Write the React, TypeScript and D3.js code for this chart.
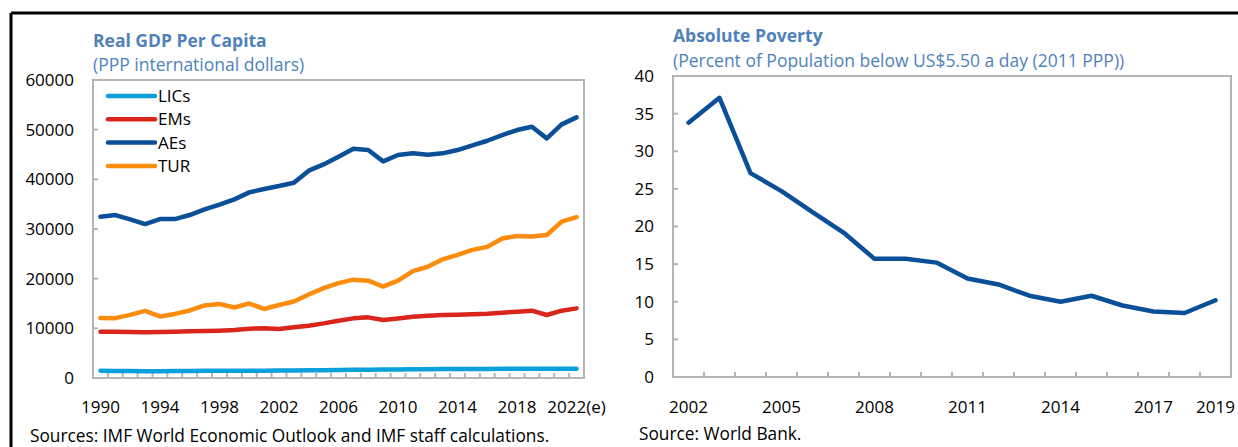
import * as d3 from "d3";
import React from "react";

// left panel: real GDP per capita, PPP international dollars
const gdpYears = d3.range(1990, 2023);
const licValues = [1450, 1420, 1400, 1380, 1380, 1400, 1420, 1440, 1450, 1450, 1460, 1480, 1490, 1510, 1540, 1570, 1600, 1640, 1670, 1690, 1730, 1770, 1760, 1790, 1820, 1830, 1830, 1840, 1860, 1880, 1840, 1840, 1860];
const emValues = [9330, 9300, 9260, 9190, 9260, 9330, 9400, 9460, 9530, 9660, 9930, 10000, 9860, 10200, 10530, 11000, 11540, 12010, 12210, 11670, 12000, 12340, 12540, 12680, 12740, 12820, 12950, 13150, 13350, 13550, 12680, 13550, 14020];
const aeValues = [32470, 32810, 31940, 31000, 32000, 32000, 32810, 33950, 34890, 35970, 37380, 38050, 38650, 39320, 41740, 43010, 44550, 46160, 45900, 43620, 44890, 45230, 44960, 45230, 45900, 46840, 47770, 48920, 49920, 50590, 48250, 51060, 52480];
const turValues = [12100, 12050, 12700, 13500, 12400, 12900, 13600, 14600, 14900, 14200, 15000, 13900, 14700, 15400, 16800, 18100, 19100, 19800, 19600, 18400, 19600, 21500, 22400, 23900, 24800, 25800, 26400, 28100, 28600, 28500, 28800, 31500, 32400];
const gdpTickLabels = ["1990", "1994", "1998", "2002", "2006", "2010", "2014", "2018", "2022(e)"];
const gdpYTicks = [0, 10000, 20000, 30000, 40000, 50000, 60000];

// right panel: poverty headcount at US$5.50 a day
const povYears = d3.range(2002, 2020);
const povValues = [33.8, 37.1, 27.1, 24.7, 21.9, 19.2, 15.7, 15.7, 15.2, 13.1, 12.3, 10.8, 10.0, 10.8, 9.5, 8.7, 8.5, 10.2];
const povTickLabels = ["2002", "2005", "2008", "2011", "2014", "2017", "2019"];
const povYTicks = [0, 5, 10, 15, 20, 25, 30, 35, 40];

const series = [
  { name: "LICs", color: "#0aa0dc", values: licValues },
  { name: "EMs", color: "#d9261c", values: emValues },
  { name: "AEs", color: "#0a4f98", values: aeValues },
  { name: "TUR", color: "#fb8c0c", values: turValues },
];

const FONT = "'Open Sans', 'Noto Sans', sans-serif";
const TITLE = "#4f82ba";
const FRAME = "#b4b4b4";

type PanelProps = {
  years: number[];
  left: number;
  right: number;
  top: number;
  bottom: number;
  yMax: number;
  yTicks: number[];
  labels: string[];
  title: string;
  subtitle: string;
  titleY: number;
  subY: number;
  lines: { name: string; color: string; values: number[] }[];
  legend: boolean;
};

function Panel(p: PanelProps) {
  const x = d3.scaleBand<number>().domain(p.years).range([p.left, p.right]).paddingInner(0).paddingOuter(0);
  const y = d3.scaleLinear().domain([0, p.yMax]).range([p.bottom, p.top]);
  const cx = (yr: number) => (x(yr) as number) + x.bandwidth() / 2;
  const boundaries = d3.range(p.years.length + 1).map((i) => p.left + i * x.step());

  const labelFor = (yr: number) => p.labels.find((l) => l.startsWith(String(yr)));

  return (
    <g>
      <text x={p.left} y={p.titleY} fill={TITLE} fontWeight="bold" fontSize={17.5} fontFamily={FONT}>{p.title}</text>
      <text x={p.left} y={p.subY} fill={TITLE} fontSize={17.5} fontFamily={FONT}>{p.subtitle}</text>

      {/* ticks inward */}
      {boundaries.map((bx, i) => (
        <line key={"xt" + i} x1={bx} x2={bx} y1={p.bottom} y2={p.bottom - 5} stroke={FRAME} strokeWidth={2} />
      ))}
      {p.yTicks.map((t) => (
        <g key={"yt" + t}>
          <line x1={p.left} x2={p.left + 5} y1={y(t)} y2={y(t)} stroke={FRAME} strokeWidth={2} />
          <text x={p.left - 19} y={y(t)} dy="0.35em" textAnchor="end" fontSize={17} fontFamily={FONT} fill="#000">{t}</text>
        </g>
      ))}
      <rect x={p.left} y={p.top} width={p.right - p.left} height={p.bottom - p.top} fill="none" stroke={FRAME} strokeWidth={2} />

      {p.years.map((yr) => {
        const l = labelFor(yr);
        if (!l) return null;
        return (
          <text key={"xl" + yr} x={cx(yr)} y={413} textAnchor="middle" fontSize={17} fontFamily={FONT} fill="#000">{l}</text>
        );
      })}

      {p.lines.map((s) => {
        const path = d3.line<number>().x((_, i) => cx(p.years[i])).y((v) => y(v)).curve(d3.curveLinear)(s.values);
        return <path key={s.name} d={path || ""} fill="none" stroke={s.color} strokeWidth={4.5} strokeLinejoin="round" strokeLinecap="round" />;
      })}

      {p.legend &&
        p.lines.map((s, i) => {
          const ly = 96 + i * 23.3;
          return (
            <g key={"lg" + s.name}>
              <line x1={108} x2={155} y1={ly} y2={ly} stroke={s.color} strokeWidth={4.5} strokeLinecap="round" />
              <text x={158} y={ly} dy="0.35em" fontSize={17} fontFamily={FONT} fill="#000">{s.name}</text>
            </g>
          );
        })}
    </g>
  );
}

export default function App() {
  return (
    <svg width={1238} height={447} style={{ position: "absolute", left: 0, top: 0, background: "#fff" }}>
      <rect x={0} y={0} width={1238} height={447} fill="#fff" />
      <line x1={11} x2={1238} y1={13} y2={13} stroke="#000" strokeWidth={3} />
      <line x1={11} x2={11} y1={13} y2={447} stroke="#000" strokeWidth={3} />

      <Panel
        years={gdpYears}
        left={93}
        right={584}
        top={80}
        bottom={378}
        yMax={60000}
        yTicks={gdpYTicks}
        labels={gdpTickLabels}
        title="Real GDP Per Capita"
        subtitle="(PPP international dollars)"
        titleY={47}
        subY={71}
        lines={series}
        legend={true}
      />
      <Panel
        years={povYears}
        left={673}
        right={1231}
        top={76}
        bottom={377}
        yMax={40}
        yTicks={povYTicks}
        labels={povTickLabels}
        title="Absolute Poverty"
        subtitle="(Percent of Population below US$5.50 a day (2011 PPP))"
        titleY={42}
        subY={67}
        lines={[{ name: "Poverty", color: "#0a4f98", values: povValues }]}
        legend={false}
      />

      <text x={30} y={442} fontSize={17.3} fontFamily={FONT} fill="#000">Sources: IMF World Economic Outlook and IMF staff calculations.</text>
      <text x={639} y={440} fontSize={17.3} fontFamily={FONT} fill="#000">Source: World Bank.</text>
    </svg>
  );
}
